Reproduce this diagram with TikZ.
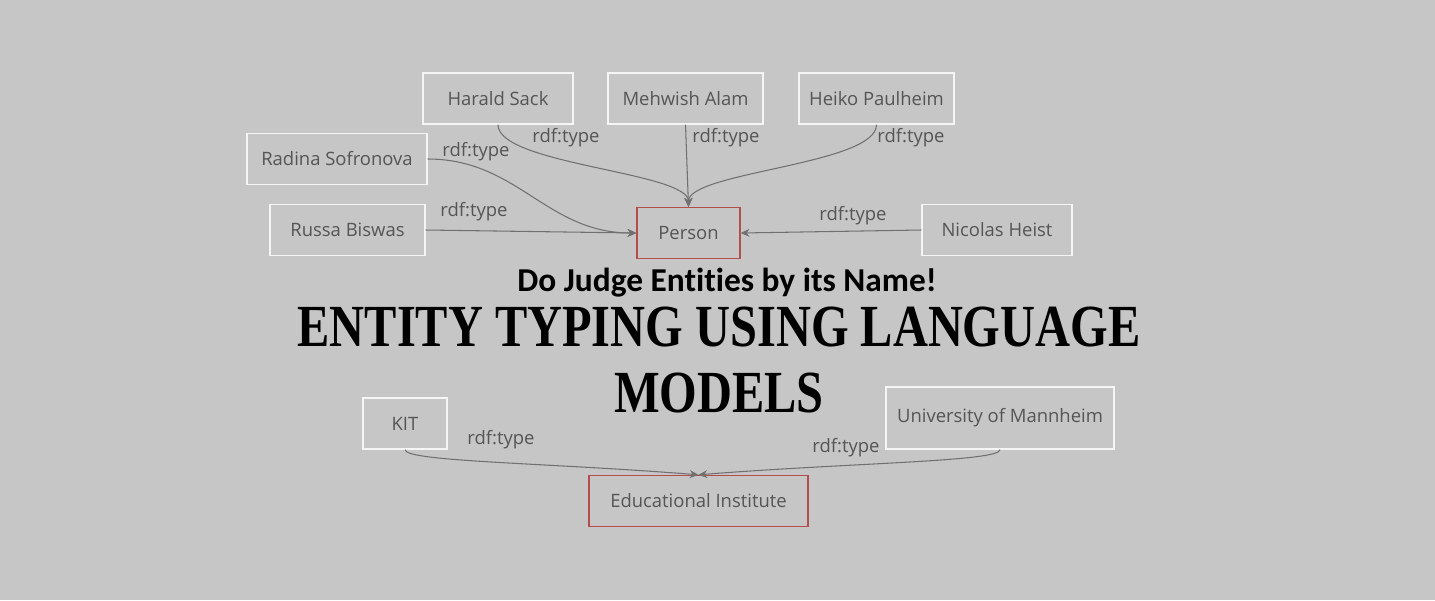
\documentclass[tikz,border=0pt]{standalone}
\usepackage{fontspec}
\setmainfont{Open Sans}
\newfontfamily\subfont[Ligatures=NoCommon]{Carlito}
\newfontfamily\titlefont[FakeStretch=0.81]{Liberation Serif}
\usetikzlibrary{arrows.meta}
\definecolor{bg}{RGB}{198,198,198}
\definecolor{boxline}{RGB}{245,245,245}
\definecolor{classline}{RGB}{178,78,76}
\definecolor{labeltext}{RGB}{85,85,85}
\definecolor{edgeline}{RGB}{112,112,112}

\begin{document}
\begin{tikzpicture}[x=0.02cm, y=-0.02cm,
  entity/.style={draw=boxline, line width=0.8pt, text=labeltext, inner sep=0pt,
    minimum height=1.02cm, font=\fontsize{10.5}{12}\selectfont},
  class/.style={entity, draw=classline},
  rel/.style={-{Stealth[length=5pt,width=4.5pt]}, draw=edgeline, line width=0.6pt},
  reltext/.style={text=labeltext, inner sep=0pt, font=\fontsize{10.5}{12}\selectfont}]
  \fill[bg] (0,0) rectangle (1435,600);
  % people
  \node[entity, minimum width=3cm]   (hs) at (498,98.5)  {Harald Sack};
  \node[entity, minimum width=3.1cm] (ma) at (685.5,98.5) {Mehwish Alam};
  \node[entity, minimum width=3.1cm] (hp) at (876.5,98.5) {Heiko Paulheim};
  \node[entity, minimum width=3.6cm] (rs) at (337,159)   {Radina Sofronova};
  \node[entity, minimum width=3.1cm] (rb) at (347.5,230) {Russa Biswas};
  \node[entity, minimum width=3cm]   (nh) at (997,230)   {Nicolas Heist};
  \node[class, minimum width=2.06cm] (pe) at (688.5,233) {Person};
  % institutes
  \node[entity, minimum width=1.68cm] (kit) at (405,423.5) {KIT};
  \node[entity, minimum width=4.56cm, minimum height=1.24cm] (uma) at (1000,418) {University of Mannheim};
  \node[class, minimum width=4.38cm] (edu) at (698.5,501) {Educational Institute};
  % rdf:type edges into Person
  \draw[rel] (hs.south) .. controls +(0,40) and +(0,-35) .. (pe.north);
  \draw[rel] (ma.south) -- (pe.north);
  \draw[rel] (hp.south) .. controls +(0,40) and +(0,-35) .. (pe.north);
  \draw[rel] (rs.east) .. controls +(90,0) and +(-90,0) .. (pe.west);
  \draw[rel] (rb.east) -- (pe.west);
  \draw[rel] (nh.west) -- (pe.east);
  \node[reltext] (ths) at (566,138) {rdf:type};
  \node[reltext] (tma) at (726,138) {rdf:type};
  \node[reltext] (thp) at (911,138) {rdf:type};
  \node[reltext] (trs) at (476,152) {rdf:type};
  \node[reltext] (trb) at (474,212) {rdf:type};
  \node[reltext] (tnh) at (853,216) {rdf:type};
  % rdf:type edges into Educational Institute
  \draw[rel] (kit.south) .. controls +(0,12) and +(-150,-12) .. (edu.north);
  \draw[rel] (uma.south) .. controls +(0,12) and +(150,-12) .. (edu.north);
  \node[reltext] (tkit) at (501,440) {rdf:type};
  \node[reltext] (tuma) at (846,448) {rdf:type};
  % title
  \node[anchor=base, font=\subfont\bfseries\fontsize{19}{23}\selectfont] (sub) at (727,291) {Do Judge Entities by its Name!};
  \node[anchor=base, font=\titlefont\bfseries\fontsize{34}{40}\selectfont] (tl1) at (719,346) {ENTITY TYPING USING LANGUAGE};
  \node[anchor=base, font=\titlefont\bfseries\fontsize{34}{40}\selectfont] (tl2) at (719,412) {MODELS};
\end{tikzpicture}
\end{document}
